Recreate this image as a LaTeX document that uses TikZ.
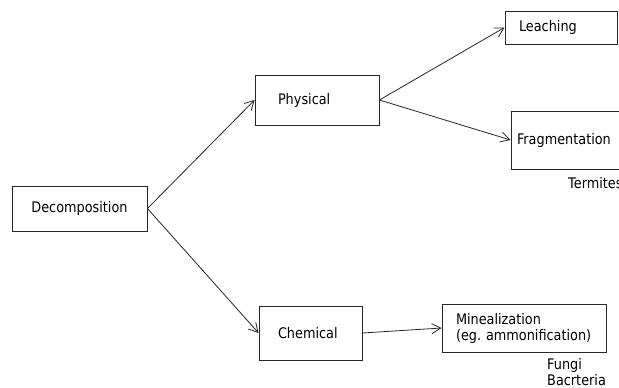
\documentclass[tikz,border=0pt]{standalone}
\usepackage{fontspec}
\setmainfont{DejaVu Sans}[FakeStretch=0.88]
\usetikzlibrary{arrows.meta}
\begin{document}
\frenchspacing
\begin{tikzpicture}[x=1pt,y=-1pt,
  txt/.style={font=\fontsize{14.6}{16}\selectfont},
  box/.style={draw=black!85, line width=0.9pt, rectangle, inner ysep=0pt, align=left, txt},
  lbl/.style={inner sep=0pt, anchor=west, align=left, txt},
  arr/.style={draw=black!85, line width=0.8pt, -{Straight Barb[length=9pt,width=10pt,line width=0.8pt]}}]
\useasboundingbox (0,0) rectangle (619,388);
\fill[white] (0,0) rectangle (619,388);
\node[box, minimum width=135pt, minimum height=45pt, align=center] (dec) at (79.5,208.5) {Decomposition};
\node[box, minimum height=50pt, inner xsep=23pt, text width=78pt] (phy) at (317,100) {Physical};
\node[box, minimum height=54pt, inner xsep=19pt, text width=65pt] (chem) at (310.5,333) {Chemical};
\node[box, minimum height=33pt, inner xsep=14pt, text width=84pt] (lea) at (561,27.5) {Leaching};
\node[box, minimum height=58pt, inner xsep=6pt, text width=107pt] (fra) at (570.5,140) {Fragmentation};
\node[box, minimum height=48pt, inner xsep=14pt, text width=136pt, inner ysep=0pt] (min) at (524,328) {Minealization\\(eg. ammonification)};
\node[lbl] (ter) at (568,183) {Termites};
\node[lbl] (fun) at (547,372.5) {Fungi\\Bacrteria};
\draw[arr] (dec.east) -- (phy.west);
\draw[arr] (dec.east) -- (chem.west);
\draw[arr] (phy.east) -- (lea.west);
\draw[arr] (phy.east) -- (fra.west);
\draw[arr] (chem.east) -- (min.west);
\end{tikzpicture}
\end{document}
